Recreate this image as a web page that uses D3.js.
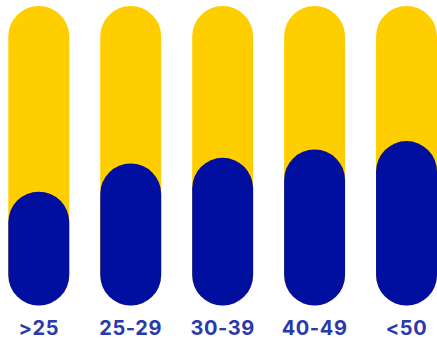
<!DOCTYPE html>
<html>
<head>
    <meta charset='utf-8'>
    <title>Age groups</title>
    <style>
    body {
      margin: 0;
      background: #fff;
      font-family: 'Inter', 'Roboto', sans-serif;
    }
    </style>
    <script src='https://d3js.org/d3.v7.min.js'></script>
</head>
<body>
<div id="container"></div>
<script>
// ******* Constants *******
const width = 437,
      height = 340;

// ******* Data *******
const categories = [">25", "25-29", "30-39", "40-49", "<50"];
const totals = [100, 100, 100, 100, 100];
const values = [38, 47.4, 49.3, 52.1, 54.9];

// ******* Scales *******
var x = d3.scaleBand()
    .domain(categories)
    .range([8.3, 437])
    .paddingInner(0.337)
    .paddingOuter(0);

var y = d3.scaleLinear()
    .domain([0, 100])
    .range([305.5, 6]);

var svg = d3.select("#container").append("svg")
    .attr("width", width)
    .attr("height", height)
    .style("display", "block");

const r = x.bandwidth() / 2;

// yellow background pills
svg.selectAll("rect.total")
    .data(categories)
    .enter()
    .append("rect")
    .attr("class", "total")
    .attr("x", d => x(d))
    .attr("y", (d, i) => y(totals[i]))
    .attr("width", x.bandwidth())
    .attr("height", (d, i) => y(0) - y(totals[i]))
    .attr("rx", r)
    .attr("fill", "#ffce00");

// blue value pills
svg.selectAll("rect.value")
    .data(categories)
    .enter()
    .append("rect")
    .attr("class", "value")
    .attr("x", d => x(d))
    .attr("y", (d, i) => y(values[i]))
    .attr("width", x.bandwidth())
    .attr("height", (d, i) => y(0) - y(values[i]))
    .attr("rx", r)
    .attr("fill", "#000f9f");

// category labels
svg.selectAll("text")
    .data(categories)
    .enter()
    .append("text")
    .text(d => d)
    .attr("x", d => x(d) + r)
    .attr("y", 335)
    .attr("text-anchor", "middle")
    .attr("font-size", 20)
    .attr("font-weight", 700)
    .attr("letter-spacing", 0.6)
    .attr("fill", "#2b3aab");
</script>
</body>
</html>
